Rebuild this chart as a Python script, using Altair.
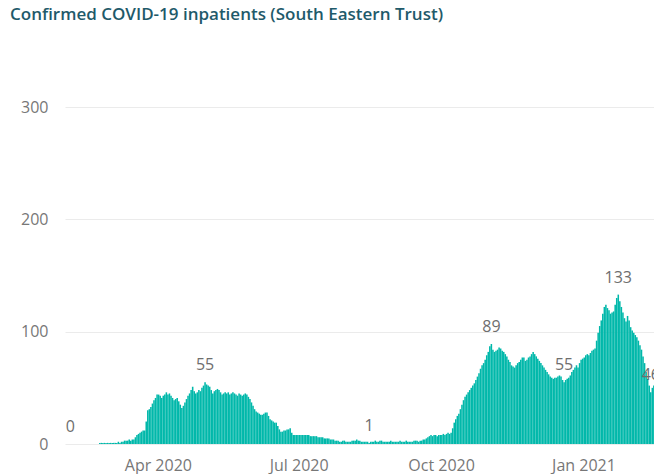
import altair as alt
import pandas as pd

TITLE = "Confirmed COVID-19 inpatients (South Eastern Trust)"
FIRST_DAY = "2020-02-04"

# daily confirmed COVID-19 inpatients
feb_2020 = [0, 0, 0, 0, 0, 0, 0, 0, 0, 0, 0, 0, 0, 0, 0, 0, 0, 0, 0,
            1, 1, 1, 1, 1, 1, 1]
mar_2020 = [1, 1, 1, 1, 1, 2, 1, 2, 2, 3, 3, 3, 4, 3, 4, 4, 6, 8, 9, 10, 11,
            12, 12, 20, 30, 31, 33, 36, 39, 41, 44]
apr_2020 = [44, 43, 41, 43, 44, 46, 44, 45, 43, 41, 39, 40, 41, 38, 35, 32, 34,
            37, 40, 43, 45, 48, 51, 47, 45, 46, 48, 47, 50, 52]
may_2020 = [55, 53, 52, 51, 48, 45, 47, 48, 49, 48, 46, 44, 45, 46, 45, 46, 44,
            45, 46, 45, 44, 43, 45, 44, 43, 44, 45, 44, 42, 40, 37]
jun_2020 = [34, 31, 29, 28, 27, 26, 26, 27, 28, 28, 25, 22, 21, 20, 19, 19, 16,
            13, 11, 11, 12, 12, 13, 13, 14, 10, 8, 8, 8, 8]
jul_2020 = [8, 8, 8, 8, 8, 8, 8, 7, 7, 7, 7, 7, 6, 6, 6, 6, 5, 5, 5, 5, 4, 4, 4,
            3, 3, 3, 2, 2, 3, 3, 2]
aug_2020 = [2, 2, 2, 3, 3, 3, 4, 3, 3, 2, 2, 2, 2, 2, 1, 2, 2, 2, 3, 2, 2, 3, 3,
            2, 2, 2, 2, 2, 3, 2, 2]
sep_2020 = [2, 2, 2, 3, 2, 2, 2, 3, 2, 2, 2, 2, 3, 3, 3, 2, 3, 3, 4, 4, 5, 6, 7,
            8, 7, 8, 8, 7, 8, 8]
oct_2020 = [8, 9, 8, 9, 10, 9, 10, 14, 19, 22, 25, 27, 31, 35, 39, 42, 44, 46,
            48, 50, 52, 54, 57, 60, 63, 67, 70, 72, 75, 79, 82]
nov_2020 = [87, 89, 84, 82, 83, 84, 86, 85, 83, 82, 80, 78, 75, 73, 70, 69, 68,
            70, 72, 73, 75, 77, 77, 74, 75, 77, 78, 80, 82, 80]
dec_2020 = [78, 76, 74, 72, 70, 68, 66, 64, 62, 60, 59, 58, 59, 59, 60, 61, 60,
            57, 55, 57, 58, 59, 61, 64, 66, 68, 70, 68, 72, 75, 76]
jan_2021 = [77, 79, 80, 79, 81, 83, 84, 85, 92, 99, 105, 110, 116, 122, 124,
            121, 119, 116, 117, 118, 124, 130, 133, 127, 122, 117, 112, 109,
            114, 110, 104]
feb_2021 = [101, 99, 97, 95, 92, 88, 84, 78, 72, 64, 58, 52, 46, 50, 52, 49, 47]

# days that carry a data label
label_days = ["2020-02-04", "2020-05-01", "2020-08-15", "2020-11-02",
              "2020-12-19", "2021-01-23", "2021-02-13"]

values = (feb_2020 + mar_2020 + apr_2020 + may_2020 + jun_2020 + jul_2020 +
          aug_2020 + sep_2020 + oct_2020 + nov_2020 + dec_2020 + jan_2021 +
          feb_2021)
days = pd.date_range(FIRST_DAY, periods=len(values), freq="D")
df = pd.DataFrame({
    "date": days,
    "next": days + pd.Timedelta(days=1),
    "mid": days + pd.Timedelta(hours=12),
    "patients": values,
})
labels_df = df[df["date"].isin(pd.to_datetime(label_days))]

FONT = "Segoe UI, Open Sans, sans-serif"
TEAL = "#01B8AA"
GREY = "#777777"

x_domain = [alt.DateTime(year=2020, month=2, date=1),
            alt.DateTime(year=2021, month=2, date=15, hours=14)]
x_ticks = [alt.DateTime(year=2020, month=4, date=1),
           alt.DateTime(year=2020, month=7, date=1),
           alt.DateTime(year=2020, month=10, date=1),
           alt.DateTime(year=2021, month=1, date=1)]

x_scale = alt.Scale(domain=x_domain, nice=False, padding=0)
y_scale = alt.Scale(domain=[0, 300], nice=False, padding=0)

x_enc = alt.X(
    "date:T",
    scale=x_scale,
    axis=alt.Axis(values=x_ticks, format="%b %Y", grid=False, domain=False,
                  ticks=False, tickSize=0, labelPadding=13, labelFontSize=16,
                  labelColor=GREY, labelFont=FONT, labelFlush=False),
    title=None,
)
y_enc = alt.Y(
    "patients:Q",
    scale=y_scale,
    stack=None,
    axis=alt.Axis(values=[0, 100, 200, 300], grid=True, gridColor="#ebebeb",
                  gridWidth=1, domain=False, ticks=False, tickSize=0,
                  labelPadding=17, labelFontSize=16, labelColor=GREY,
                  labelFont=FONT),
    title=None,
)

bars = alt.Chart(df).mark_bar(color=TEAL, clip=True, orient="vertical").encode(
    x=x_enc, x2="next:T", y=y_enc, y2=alt.datum(0)
)

text = alt.Chart(labels_df).mark_text(
    baseline="alphabetic", align="center", dy=-12, fontSize=16,
    color="#6e6e6e", font=FONT
).encode(
    x=alt.X("mid:T", scale=x_scale),
    y=alt.Y("patients:Q", scale=y_scale),
    text=alt.Text("patients:Q"),
)

chart = alt.layer(bars, text).properties(
    width=589,
    height=337,
    padding={"left": 57, "top": 99, "right": 0, "bottom": 30},
    autosize=alt.AutoSizeParams(type="none"),
    title=alt.TitleParams(
        text=TITLE, anchor="start", frame="group", dx=-55, offset=62,
        baseline="alphabetic", fontSize=17, fontWeight=600, font=FONT,
        color="#1f5a6a",
    ),
).configure_view(stroke=None)

chart.save("out.html", embed_options={"renderer": "svg", "actions": False})
